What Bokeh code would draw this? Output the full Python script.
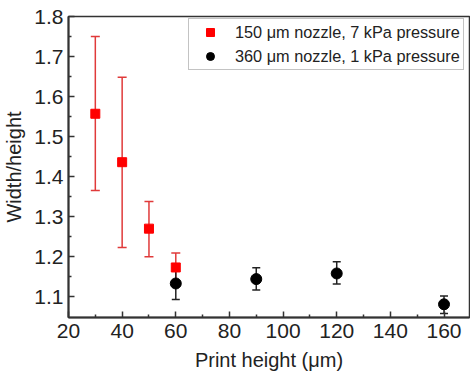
from bokeh.plotting import figure
from bokeh.models import ColumnDataSource, Whisker, TeeHead, Legend, LegendItem, FixedTicker, Range1d
from bokeh.embed import file_html
from bokeh.resources import INLINE

# data
red_x = [30, 40, 50, 60]
red_y = [1.557, 1.436, 1.270, 1.173]
red_lo = [1.365, 1.223, 1.200, 1.137]
red_hi = [1.750, 1.648, 1.338, 1.209]

blk_x = [60, 90, 120, 160]
blk_y = [1.133, 1.144, 1.158, 1.081]
blk_lo = [1.093, 1.117, 1.132, 1.058]
blk_hi = [1.172, 1.172, 1.187, 1.102]

x_ticks = [20, 40, 60, 80, 100, 120, 140, 160]
y_ticks = [1.1, 1.2, 1.3, 1.4, 1.5, 1.6, 1.7, 1.8]

FONT = "Liberation Sans"

p = figure(width=470, height=373, output_backend="svg", toolbar_location=None,
           x_range=Range1d(20, 169.5), y_range=Range1d(1.048, 1.8),
           min_border_left=66, min_border_right=1, min_border_top=16, min_border_bottom=56)
p.grid.visible = False
p.background_fill_color = "white"
p.border_fill_color = "white"
p.outline_line_color = "#333333"
p.outline_line_width = 1.5

for ax in (p.xaxis[0], p.yaxis[0]):
    ax.axis_line_width = 2
    ax.axis_line_color = "#333333"
    ax.major_tick_in = 6
    ax.major_tick_out = 0
    ax.minor_tick_in = 3
    ax.minor_tick_out = 0
    ax.major_tick_line_width = 1.5
    ax.minor_tick_line_width = 1.5
    ax.major_tick_line_color = "#333333"
    ax.minor_tick_line_color = "#333333"
    ax.major_label_text_font = FONT
    ax.major_label_text_font_size = "21px"
    ax.major_label_text_color = "#222222"
    ax.axis_label_text_font = FONT
    ax.axis_label_text_font_size = "20px"
    ax.axis_label_text_font_style = "normal"
    ax.axis_label_text_color = "#222222"

p.xaxis.ticker = FixedTicker(ticks=x_ticks, minor_ticks=list(range(30, 170, 20)))
p.yaxis.ticker = FixedTicker(ticks=y_ticks, minor_ticks=[1.15, 1.25, 1.35, 1.45, 1.55, 1.65, 1.75])
p.xaxis.axis_label = "Print height (\u03bcm)"
p.yaxis.axis_label = "Width/height"
p.xaxis.major_label_standoff = 6
p.yaxis.major_label_standoff = 5
p.xaxis.axis_label_standoff = 8
p.yaxis.axis_label_standoff = 6

rsrc = ColumnDataSource(dict(x=red_x, y=red_y, lo=red_lo, hi=red_hi))
bsrc = ColumnDataSource(dict(x=blk_x, y=blk_y, lo=blk_lo, hi=blk_hi))

rw = Whisker(source=rsrc, base="x", lower="lo", upper="hi", line_color="#e03a3a", line_width=1.5,
             upper_head=TeeHead(size=9, line_color="#e03a3a", line_width=1.5),
             lower_head=TeeHead(size=9, line_color="#e03a3a", line_width=1.5))
p.add_layout(rw)
r1 = p.scatter("x", "y", source=rsrc, marker="square", size=9, fill_color="#ff0000", line_color="#ff0000")

bw = Whisker(source=bsrc, base="x", lower="lo", upper="hi", line_color="#222222", line_width=1.5,
             upper_head=TeeHead(size=8, line_color="#222222", line_width=1.5),
             lower_head=TeeHead(size=8, line_color="#222222", line_width=1.5))
p.add_layout(bw)
r2 = p.scatter("x", "y", source=bsrc, marker="circle", size=11, fill_color="#000000", line_color="#000000")

legend = Legend(items=[LegendItem(label="150 \u03bcm nozzle, 7 kPa pressure", renderers=[r1]),
                       LegendItem(label="360 \u03bcm nozzle, 1 kPa pressure", renderers=[r2])],
                location=(120, 247))
legend.margin = 0
legend.padding = 3
legend.spacing = 4
legend.label_text_font = FONT
legend.label_text_font_size = "16.3px"
legend.label_text_color = "#222222"
legend.label_height = 20
legend.glyph_width = 36
legend.glyph_height = 20
legend.label_standoff = 7
legend.border_line_color = "#888888"
legend.border_line_width = 1.5
legend.background_fill_alpha = 1
p.add_layout(legend)

open("out.html", "w").write(file_html(p, INLINE))
